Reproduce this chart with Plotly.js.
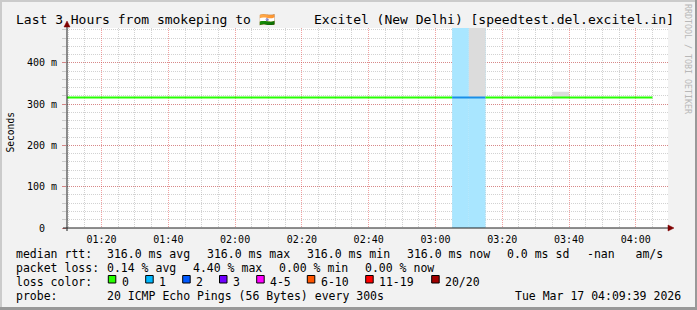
<!DOCTYPE html>
<html>
<head>
<meta charset="utf-8">
<script src="https://cdn.plot.ly/plotly-3.0.1.min.js"></script>
<style>html,body{margin:0;padding:0;background:#f2f2f2;}#chart{width:697px;height:310px;}</style>
</head>
<body>
<div id="chart"></div>
<script>
// ---------------- data ----------------
const day = '2026-03-17';
const stepStart = ['01:05','01:10','01:15','01:20','01:25','01:30','01:35','01:40','01:45','01:50','01:55',
  '02:00','02:05','02:10','02:15','02:20','02:25','02:30','02:35','02:40','02:45','02:50','02:55',
  '03:00','03:05','03:10','03:15','03:20','03:25','03:30','03:35','03:40','03:45','03:50','03:55',
  '04:00'];
// median rtt in seconds per 5-minute step
const medianRtt = [0.316,0.316,0.316,0.316,0.316,0.316,0.316,0.316,0.316,0.316,0.316,
  0.316,0.316,0.316,0.316,0.316,0.316,0.316,0.316,0.316,0.316,0.316,0.316,
  0.316,0.316,0.316,0.316,0.316,0.316,0.316,0.316,0.316,0.316,0.316,0.316,
  0.316];
// upper edge of the smoke (max rtt) in seconds
const smokeMax = [0.316,0.316,0.316,0.316,0.316,0.316,0.316,0.316,0.316,0.316,0.316,
  0.316,0.316,0.316,0.316,0.316,0.316,0.316,0.316,0.316,0.316,0.316,0.316,
  0.316,0.316,0.600,0.316,0.316,0.316,0.316,0.330,0.316,0.316,0.316,0.316,
  0.316];
// packet loss in percent per step
const lossPct = [0,0,0,0,0,0,0,0,0,0,0,
  0,0,0,0,0,0,0,0,0,0,0,0,
  0,4.40,0.64,0,0,0,0,0,0,0,0,0,
  0];
const pingsPerStep = 20;
const lossLabels = ['0','1','2','3','4-5','6-10','11-19','20/20'];
const lossUpper  = [0,1,2,3,5,10,19,20];
const lossColors = ['#26ff00','#00b8ff','#0059ff','#7000ff','#ff00ff','#ff5500','#ff0000','#a10000'];
const lossBand   = ['','#a9e6ff','#a6c4ff','#cfa6ff','#ffa6ff','#ffc6a6','#ffa6a6','#e0a6a6'];
const lossLine   = ['#26ff00','#1a8fe8','#0059ff','#7000ff','#ff00ff','#ff5500','#ff0000','#a10000'];
const yTickVals  = [0,0.1,0.2,0.3,0.4];
const yTickText  = ['0\u00a0\u00a0','100 m','200 m','300 m','400 m'];
const rttStats   = ['316.0 ms avg','316.0 ms max','316.0 ms min','316.0 ms now','0.0 ms sd','-nan   am/s'];
const lossStats  = ['0.14 % avg','4.40 % max','0.00 % min','0.00 % now'];
const probeText  = '20 ICMP Echo Pings (56 Bytes) every 300s';
const stamp      = 'Tue Mar 17 04:09:39 2026';
const titleLeft  = 'Last 3 Hours from smokeping to \u{1F1EE}\u{1F1F3}';
const titleRight = 'Excitel (New Delhi) [speedtest.del.excitel.in]';
const xRange = [day+' 01:09:39', day+' 04:09:39'];
const yTop = 0.4843;

// ---------------- geometry helpers ----------------
const W=697,H=310,L=67,R=668,T=28,B=228;
const px = v => (v-L)/(R-L);
const py = v => (B-v)/(B-T);
const mono = 'DejaVu Sans Mono, monospace';
const STEP = 300000;
const t = s => day+' '+s+':00';
const tEnd = s => { const d = new Date(t(s).replace(' ','T')); d.setTime(d.getTime()+STEP);
  const p=n=>String(n).padStart(2,'0'); return day+' '+p(d.getHours())+':'+p(d.getMinutes())+':00'; };
const bucket = pct => { const lost = Math.ceil(pct/100*pingsPerStep - 1e-9);
  for (let i=0;i<lossUpper.length;i++) if (lost<=lossUpper[i]) return i; return lossUpper.length-1; };

// ---------------- traces ----------------
const traces = [];
// loss background bands
lossBand.forEach((c,bi)=>{
  if (bi===0) return;
  const xs=[]; stepStart.forEach((s,i)=>{ if (lossPct[i]>0 && bucket(lossPct[i])===bi) xs.push(t(s)); });
  if (!xs.length) return;
  traces.push({type:'bar', x:xs, y:xs.map(()=>yTop), base:0, width:STEP, offset:0,
    marker:{color:c, line:{width:0}}, hoverinfo:'skip'});
});
// smoke
{
  const xs=[],ys=[],bs=[];
  stepStart.forEach((s,i)=>{ if (smokeMax[i]>medianRtt[i]) { xs.push(t(s)); bs.push(medianRtt[i]); ys.push(smokeMax[i]-medianRtt[i]); } });
  traces.push({type:'bar', x:xs, y:ys, base:bs, width:STEP, offset:0,
    marker:{color:'#dcdcdc', line:{width:0}}, hoverinfo:'skip'});
}
// median line, coloured by loss
{
  let i=0;
  while (i<stepStart.length) {
    const b = bucket(lossPct[i]); let j=i;
    while (j+1<stepStart.length && bucket(lossPct[j+1])===b) j++;
    const xs=[],ys=[];
    for (let k=i;k<=j;k++){ xs.push(t(stepStart[k])); ys.push(medianRtt[k]); }
    xs.push(tEnd(stepStart[j])); ys.push(medianRtt[j]);
    traces.push({type:'scatter', mode:'lines', x:xs, y:ys, line:{color:lossLine[b], width:2, shape:'hv'}, hoverinfo:'skip'});
    i=j+1;
  }
}

// ---------------- annotations ----------------
const ann = (text, x, y, o={}) => Object.assign({xref:'paper', yref:'paper', x:px(x), y:py(y), text,
  showarrow:false, xanchor:'left', yanchor:'middle', borderpad:0, borderwidth:0,
  font:{family:mono, size:11.5, color:'#000'}}, o);
const annotations = [];
annotations.push(ann(titleLeft, 16, 19.5, {font:{family:mono,size:13,color:'#000'}}));
annotations.push(ann(titleRight, 673.5, 19.5, {xanchor:'right', font:{family:mono,size:13,color:'#000'}}));
annotations.push(ann('Seconds', 10, 132.5, {xanchor:'center', textangle:-90, font:{family:mono,size:9.6,color:'#000'}}));
annotations.push(ann('RRDTOOL / TOBI OETIKER', 688, 59, {xanchor:'center', textangle:90, font:{family:mono,size:8.3,color:'#b8b8b8'}}));
const rowY = [254, 268, 282, 296];
annotations.push(ann('median rtt:', 16, rowY[0]));
[107.3,207.3,307.3,407.3,507.3,587.3].forEach((x,i)=>annotations.push(ann(rttStats[i], x, rowY[0])));
annotations.push(ann('packet loss:', 16, rowY[1]));
[107.3,193.0,279.3,365.0].forEach((x,i)=>annotations.push(ann(lossStats[i], x, rowY[1])));
annotations.push(ann('loss color:', 16, rowY[2]));
const boxX = [108.3,145.7,182.7,219.5,256.7,307.3,365.7,431.7];
const shapes = [];
lossLabels.forEach((lab,i)=>{
  annotations.push(ann(lab, boxX[i]+13.6, rowY[2]));
  shapes.push({type:'rect', xref:'paper', yref:'paper', x0:px(boxX[i]), x1:px(boxX[i]+7.5), y0:py(283), y1:py(275.5),
    fillcolor:lossColors[i], line:{color:'#000', width:1}, layer:'above'});
});
annotations.push(ann('probe:', 16, rowY[3]));
annotations.push(ann(probeText, 107.3, rowY[3]));
annotations.push(ann(stamp, 680.5, rowY[3], {xanchor:'right'}));

// ---------------- axes decorations ----------------
const axisCol = '#1f1f1f', arrowCol = '#7f0000';
shapes.push({type:'line', xref:'paper', yref:'paper', x0:px(63), x1:px(669), y0:0, y1:0, line:{color:axisCol, width:1}, layer:'above'});
shapes.push({type:'line', xref:'paper', yref:'paper', x0:0, x1:0, y0:py(231), y1:py(25), line:{color:axisCol, width:1}, layer:'above'});
shapes.push({type:'path', xref:'paper', yref:'paper', layer:'above', fillcolor:arrowCol, line:{color:arrowCol, width:0.5},
  path:`M ${px(668)} ${py(225)} L ${px(674)} ${py(228)} L ${px(668)} ${py(231)} Z`});
shapes.push({type:'path', xref:'paper', yref:'paper', layer:'above', fillcolor:arrowCol, line:{color:arrowCol, width:0.5},
  path:`M ${px(64)} ${py(27)} L ${px(67)} ${py(21)} L ${px(70)} ${py(27)} Z`});
// frame shading
shapes.push({type:'rect', xref:'paper', yref:'paper', x0:px(0), x1:px(697), y0:py(0), y1:py(2), fillcolor:'#cbcbcb', line:{width:0}, layer:'above'});
shapes.push({type:'rect', xref:'paper', yref:'paper', x0:px(0), x1:px(2), y0:py(0), y1:py(310), fillcolor:'#cbcbcb', line:{width:0}, layer:'above'});
shapes.push({type:'rect', xref:'paper', yref:'paper', x0:px(695), x1:px(697), y0:py(0), y1:py(310), fillcolor:'#999999', line:{width:0}, layer:'above'});
shapes.push({type:'rect', xref:'paper', yref:'paper', x0:px(0), x1:px(697), y0:py(307), y1:py(310), fillcolor:'#999999', line:{width:0}, layer:'above'});

const majorGrid = 'rgba(222,48,48,0.45)', minorGrid = 'rgba(143,143,143,0.4)';
const layout = {
  width:W, height:H, margin:{l:L, r:W-R, t:T, b:H-B, pad:0},
  paper_bgcolor:'#f2f2f2', plot_bgcolor:'#ffffff', showlegend:false, barmode:'overlay', hovermode:false,
  font:{family:mono, size:10, color:'#000'},
  xaxis:{type:'date', range:xRange, tick0:day+' 00:00:00', dtick:1200000, tickformat:'%H:%M',
    showgrid:true, gridcolor:majorGrid, griddash:'1px,1px', gridwidth:1, zeroline:false, showline:false,
    ticks:'', ticklabelstandoff:4, tickfont:{family:mono,size:10,color:'#000'},
    minor:{dtick:300000, tick0:day+' 00:00:00', showgrid:true, gridcolor:minorGrid, griddash:'1px,1px', gridwidth:1}},
  yaxis:{range:[0,yTop], tickvals:yTickVals, ticktext:yTickText, showgrid:true, gridcolor:majorGrid,
    griddash:'1px,1px', gridwidth:1, zeroline:false, showline:false,
    ticks:'outside', ticklen:4, tickcolor:majorGrid, ticklabelstandoff:3, tickfont:{family:mono,size:10,color:'#000'},
    minor:{dtick:0.02, tick0:0, showgrid:true, gridcolor:minorGrid, griddash:'1px,1px', gridwidth:1, ticks:'outside', ticklen:4, tickcolor:minorGrid}},
  annotations, shapes
};
Plotly.newPlot('chart', traces, layout, {staticPlot:true, displayModeBar:false});
</script>
</body>
</html>
